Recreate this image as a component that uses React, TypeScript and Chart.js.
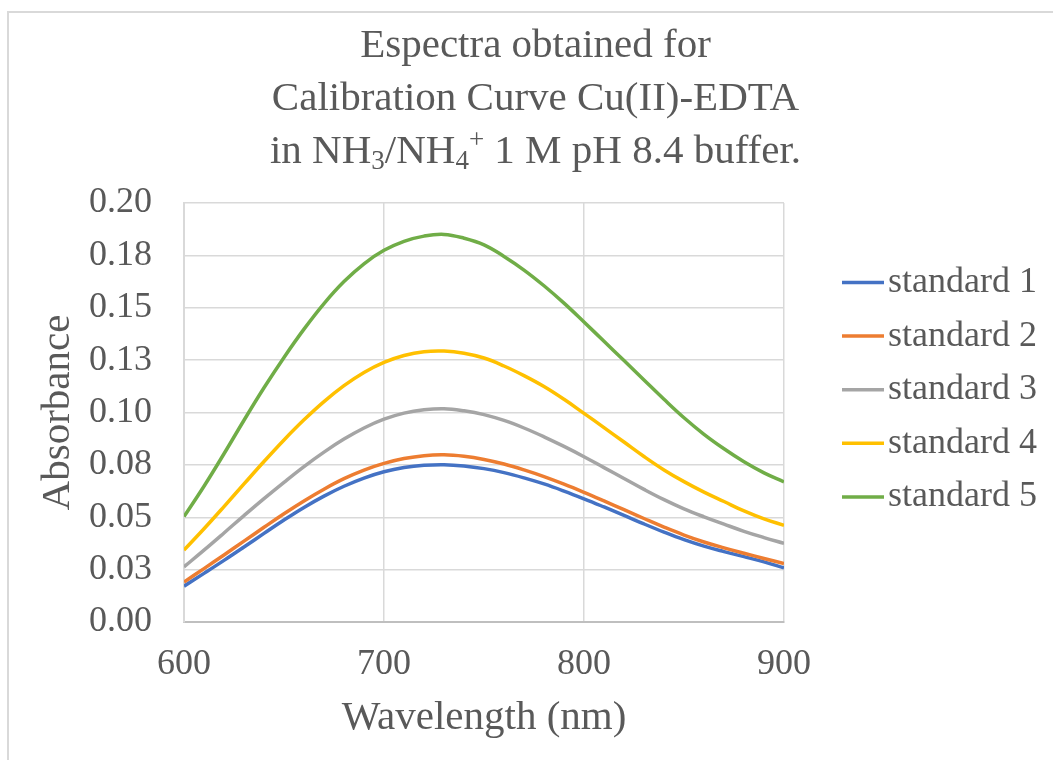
import React, { useEffect, useRef } from 'react';
import { Chart, registerables } from 'chart.js';

Chart.register(...registerables);

// ---- data ----
const WAVELENGTHS = [600, 610, 620, 630, 640, 650, 660, 670, 680, 690, 700, 710, 720, 730, 740, 750, 760, 770, 780, 790, 800, 810, 820, 830, 840, 850, 860, 870, 880, 890, 900];

const STANDARD_1 = [0.0171, 0.0232, 0.0294, 0.0358, 0.0423, 0.0487, 0.0547, 0.0601, 0.0648, 0.0687, 0.0717, 0.0737, 0.0748, 0.0751, 0.0745, 0.0732, 0.0713, 0.0688, 0.0659, 0.0625, 0.0588, 0.0549, 0.0509, 0.0468, 0.0429, 0.0393, 0.0362, 0.0336, 0.0312, 0.0287, 0.0258];
const STANDARD_2 = [0.0191, 0.0255, 0.0320, 0.0386, 0.0452, 0.0517, 0.0578, 0.0634, 0.0684, 0.0725, 0.0757, 0.0780, 0.0794, 0.0798, 0.0791, 0.0776, 0.0754, 0.0726, 0.0694, 0.0658, 0.0619, 0.0578, 0.0536, 0.0494, 0.0453, 0.0415, 0.0382, 0.0354, 0.0328, 0.0303, 0.0279];
const STANDARD_3 = [0.0263, 0.0343, 0.0425, 0.0508, 0.0589, 0.0667, 0.0742, 0.0811, 0.0873, 0.0926, 0.0968, 0.0997, 0.1013, 0.1018, 0.1008, 0.0990, 0.0962, 0.0926, 0.0884, 0.0838, 0.0789, 0.0737, 0.0685, 0.0633, 0.0584, 0.0540, 0.0502, 0.0467, 0.0433, 0.0403, 0.0375];
const STANDARD_4 = [0.0343, 0.0445, 0.0551, 0.0659, 0.0766, 0.0869, 0.0965, 0.1052, 0.1128, 0.1191, 0.1239, 0.1272, 0.1290, 0.1293, 0.1283, 0.1260, 0.1222, 0.1176, 0.1124, 0.1063, 0.0996, 0.0928, 0.0859, 0.0790, 0.0726, 0.0670, 0.0620, 0.0575, 0.0530, 0.0492, 0.0462];
const STANDARD_5 = [0.0503, 0.0648, 0.0803, 0.0963, 0.1118, 0.1263, 0.1398, 0.1520, 0.1625, 0.1710, 0.1774, 0.1817, 0.1842, 0.1850, 0.1832, 0.1800, 0.1745, 0.1680, 0.1605, 0.1522, 0.1432, 0.1340, 0.1248, 0.1155, 0.1063, 0.0975, 0.0896, 0.0827, 0.0765, 0.0712, 0.0669];

const SERIES_LABELS = ['standard 1', 'standard 2', 'standard 3', 'standard 4', 'standard 5'];
const SERIES_VALUES = [STANDARD_1, STANDARD_2, STANDARD_3, STANDARD_4, STANDARD_5];
const SERIES_COLORS = ['#4472C4', '#ED7D31', '#A5A5A5', '#FFC000', '#70AD47'];

const X_TICK_LABELS = ['600', '700', '800', '900'];
const Y_TICK_LABELS = ['0.00', '0.03', '0.05', '0.08', '0.10', '0.13', '0.15', '0.18', '0.20'];

const X_TITLE = 'Wavelength (nm)';
const Y_TITLE = 'Absorbance';

// title lines as runs: [text, mode]
const TITLE_LINES: [string, string][][] = [
  [['Espectra obtained for', 'n']],
  [['Calibration Curve Cu(II)-EDTA', 'n']],
  [['in NH', 'n'], ['3', 'sub'], ['/NH', 'n'], ['4', 'sub'], ['+', 'sup'], [' 1 M pH 8.4 buffer.', 'n']],
];

// ---- style ----
const FONT = "'Liberation Serif', 'Times New Roman', serif";
const TEXT_COLOR = '#595959';
const GRID_COLOR = '#d9d9d9';

const overlayPlugin = {
  id: 'overlayText',
  afterDraw(chart: any) {
    const ctx = chart.ctx as CanvasRenderingContext2D;
    ctx.save();
    ctx.fillStyle = TEXT_COLOR;
    // title
    const titleSize = 41;
    const subSize = 27;
    const centerX = 535.5;
    const baselines = [56.7, 110, 163.3];
    TITLE_LINES.forEach((runs, li) => {
      let total = 0;
      const widths = runs.map(([t, m]) => {
        ctx.font = `${m === 'n' ? titleSize : subSize}px ${FONT}`;
        const w = ctx.measureText(t).width;
        total += w;
        return w;
      });
      let x = centerX - total / 2;
      ctx.textAlign = 'left';
      ctx.textBaseline = 'alphabetic';
      runs.forEach(([t, m], i) => {
        ctx.font = `${m === 'n' ? titleSize : subSize}px ${FONT}`;
        const dy = m === 'sub' ? 6 : m === 'sup' ? -15 : 0;
        ctx.fillText(t, x, baselines[li] + dy);
        x += widths[i];
      });
    });
    // legend
    ctx.font = `36px ${FONT}`;
    ctx.textBaseline = 'middle';
    ctx.textAlign = 'left';
    chart.data.datasets.forEach((ds: any, i: number) => {
      const y = 282.5 + i * 53.6;
      ctx.strokeStyle = ds.borderColor;
      ctx.lineWidth = 3.5;
      ctx.beginPath();
      ctx.moveTo(842, y);
      ctx.lineTo(884, y);
      ctx.stroke();
      ctx.fillStyle = TEXT_COLOR;
      ctx.fillText(ds.label, 888, y);
    });
    ctx.restore();
  },
};

export default function App() {
  const canvasRef = useRef<HTMLCanvasElement | null>(null);

  useEffect(() => {
    if (!canvasRef.current) return;
    const datasets = SERIES_VALUES.map((vals, i) => ({
      label: SERIES_LABELS[i],
      data: vals.map((v, j) => ({ x: WAVELENGTHS[j], y: v })),
      borderColor: SERIES_COLORS[i],
      backgroundColor: SERIES_COLORS[i],
      borderWidth: 3.5,
      pointRadius: 0,
      tension: 0.4,
      fill: false,
      order: SERIES_VALUES.length - i,
    }));
    const chart = new Chart(canvasRef.current, {
      type: 'line',
      data: { datasets },
      options: {
        responsive: false,
        maintainAspectRatio: false,
        animation: false,
        devicePixelRatio: 1,
        layout: { padding: { top: 203, right: 269, bottom: 0, left: 0 } },
        plugins: {
          legend: { display: false },
          title: { display: false },
          tooltip: { enabled: false },
        },
        scales: {
          x: {
            type: 'linear',
            min: 600,
            max: 900,
            afterFit: (scale: any) => { scale.height = 138; },
            afterBuildTicks: (scale: any) => {
              scale.ticks = X_TICK_LABELS.map((t) => ({ value: Number(t) }));
            },
            ticks: {
              stepSize: 100,
              padding: 21,
              color: TEXT_COLOR,
              font: { family: FONT, size: 36 },
              callback: (_v: any, i: number) => X_TICK_LABELS[i],
              maxRotation: 0,
            },
            grid: { color: GRID_COLOR, lineWidth: 1.5, drawTicks: false },
            border: { color: '#bfbfbf', width: 2 },
            title: {
              display: true,
              text: X_TITLE,
              color: TEXT_COLOR,
              font: { family: FONT, size: 41, lineHeight: 1.2 },
              padding: { top: 0, bottom: 17.5 },
            },
          },
          y: {
            type: 'linear',
            min: 0,
            max: 0.2,
            afterFit: (scale: any) => { scale.width = 184; },
            afterBuildTicks: (scale: any) => {
              scale.ticks = Y_TICK_LABELS.map((_t, i) => ({ value: i * 0.025 }));
            },
            ticks: {
              stepSize: 0.025,
              padding: 32,
              color: TEXT_COLOR,
              font: { family: FONT, size: 36 },
              callback: (_v: any, i: number) => Y_TICK_LABELS[i],
            },
            grid: { color: GRID_COLOR, lineWidth: 1.5, drawTicks: false },
            border: { color: GRID_COLOR, width: 2 },
            title: {
              display: true,
              text: Y_TITLE,
              color: TEXT_COLOR,
              font: { family: FONT, size: 41, lineHeight: 1.2 },
              padding: { top: 33.3, bottom: 0 },
            },
          },
        },
      },
      plugins: [overlayPlugin],
    } as any);
    return () => chart.destroy();
  }, []);

  return (
    <div style={{ position: 'fixed', left: 0, top: 0, width: 1053, height: 760, overflow: 'hidden', background: '#fff' }}>
      <div
        style={{
          position: 'absolute',
          left: 7,
          top: 11,
          width: 1100,
          height: 800,
          border: '2px solid #d9d9d9',
          boxSizing: 'border-box',
        }}
      />
      <canvas ref={canvasRef} width={1053} height={760} style={{ position: 'absolute', left: 0, top: 0 }} />
    </div>
  );
}
